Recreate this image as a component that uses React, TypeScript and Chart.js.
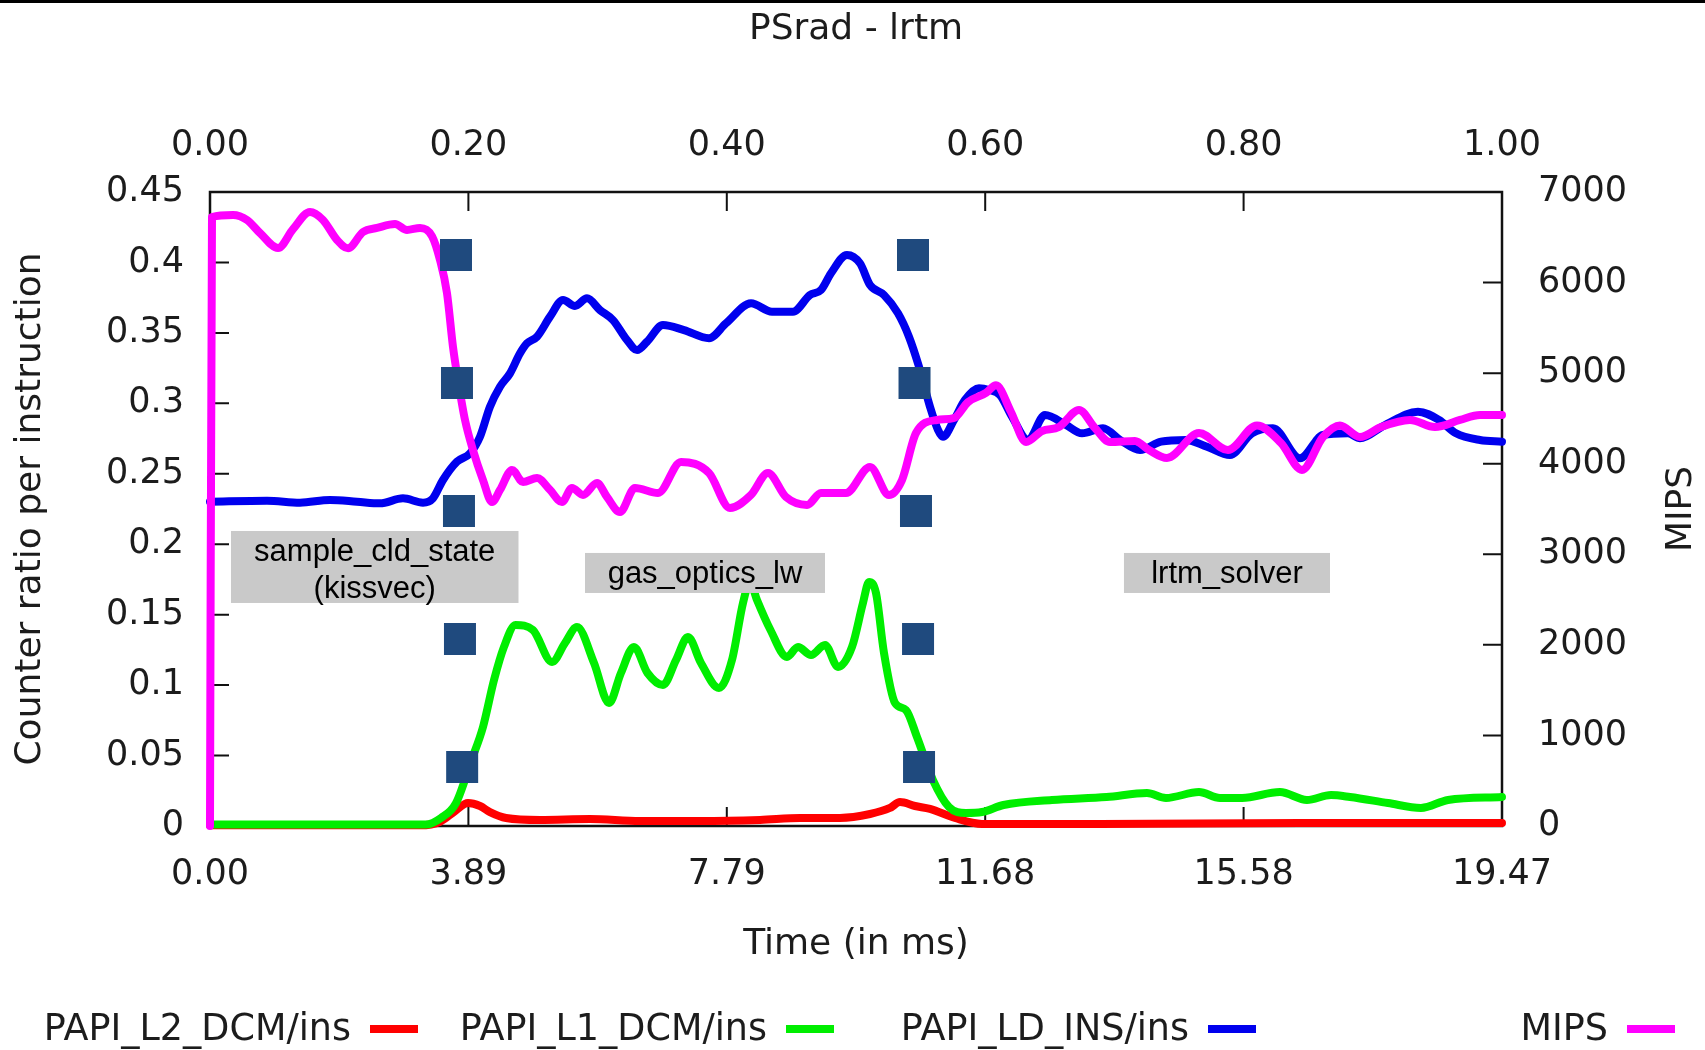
import React, { useEffect, useRef } from "react";
import { Chart, registerables } from "chart.js";

Chart.register(...registerables);

// ---------- data ----------
const X_MAX = 19.47;
const X_TICKS = [0, 3.894, 7.788, 11.682, 15.576, 19.47];
const TOP_TICKS = [0, 0.2, 0.4, 0.6, 0.8, 1.0];
const Y_TICKS = [0, 0.05, 0.1, 0.15, 0.2, 0.25, 0.3, 0.35, 0.4, 0.45];
const Y1_TICKS = [0, 1000, 2000, 3000, 4000, 5000, 6000, 7000];

const MIPS_T = [0, 0.03, 0.347, 0.558, 0.753, 1.025, 1.251, 1.507, 1.703, 1.914,
  2.08, 2.306, 2.517, 2.788, 2.969, 3.165, 3.345, 3.466, 3.571, 3.662,
  3.737, 3.843, 3.963, 4.114, 4.25, 4.37, 4.551, 4.717, 4.928, 5.124,
  5.304, 5.455, 5.621, 5.832, 5.983, 6.178, 6.404, 6.751, 7.098, 7.52,
  7.836, 8.153, 8.409, 8.68, 8.997, 9.207, 9.584, 9.946, 10.232, 10.428,
  10.639, 10.955, 11.212, 11.423, 11.694, 11.845, 12.071, 12.297, 12.538, 12.794,
  13.095, 13.336, 13.562, 13.939, 14.15, 14.421, 14.904, 15.34, 15.777, 16.139,
  16.456, 16.772, 17.028, 17.33, 17.646, 18.083, 18.46, 18.837, 19.138, 19.47];
const MIPS_V = [0, 6724, 6746, 6691, 6547, 6382, 6589, 6779, 6691, 6470,
  6379, 6558, 6603, 6647, 6581, 6603, 6513, 6249, 5885, 5289,
  4924, 4483, 4151, 3820, 3577, 3710, 3931, 3798, 3842, 3710,
  3577, 3732, 3655, 3787, 3632, 3467, 3732, 3677, 4019, 3897,
  3511, 3655, 3897, 3632, 3544, 3677, 3677, 3964, 3655, 3820,
  4339, 4483, 4505, 4681, 4781, 4866, 4571, 4240, 4361, 4405,
  4593, 4394, 4240, 4251, 4151, 4063, 4339, 4151, 4423, 4229,
  3931, 4295, 4423, 4295, 4405, 4483, 4405, 4483, 4538, 4538];

const LD_T = [0, 0.859, 1.356, 1.808, 2.215, 2.562, 2.908, 3.21, 3.36, 3.511,
  3.722, 3.918, 4.069, 4.219, 4.37, 4.521, 4.672, 4.777, 4.928, 5.124,
  5.32, 5.5, 5.681, 5.877, 6.073, 6.284, 6.435, 6.585, 6.826, 7.143,
  7.52, 7.776, 8.153, 8.469, 8.785, 9.041, 9.207, 9.358, 9.599, 9.795,
  9.946, 10.157, 10.368, 10.533, 10.684, 10.85, 10.971, 11.046, 11.212, 11.377,
  11.588, 11.739, 11.905, 12.086, 12.327, 12.583, 12.899, 13.141, 13.457, 13.713,
  14.015, 14.331, 14.708, 15.024, 15.371, 15.702, 16.019, 16.426, 16.772, 17.149,
  17.33, 17.707, 18.204, 18.521, 18.777, 19.138, 19.47];
const LD_V = [0.2302, 0.2309, 0.2295, 0.2314, 0.2302, 0.229, 0.2326, 0.2295, 0.2326, 0.2456,
  0.2586, 0.2645, 0.2763, 0.2976, 0.3118, 0.3213, 0.3355, 0.3426, 0.3473, 0.3615,
  0.3733, 0.3691, 0.3745, 0.3662, 0.3591, 0.3449, 0.3378, 0.3437, 0.3556, 0.352,
  0.3462, 0.3568, 0.371, 0.365, 0.365, 0.3769, 0.3804, 0.3923, 0.4053, 0.3994,
  0.384, 0.3769, 0.3639, 0.3473, 0.326, 0.2976, 0.2811, 0.2763, 0.2882, 0.3024,
  0.3107, 0.3095, 0.3059, 0.2905, 0.274, 0.2917, 0.2847, 0.2787, 0.2823, 0.274,
  0.2669, 0.2728, 0.274, 0.2692, 0.2633, 0.2787, 0.2823, 0.261, 0.2775, 0.2787,
  0.2752, 0.2846, 0.2941, 0.2882, 0.2787, 0.274, 0.2728];

const L1_T = [0, 3.247, 3.481, 3.707, 3.941, 4.114, 4.28, 4.43, 4.604, 4.867,
  5.154, 5.35, 5.53, 5.787, 6.013, 6.193, 6.389, 6.593, 6.826, 7.022,
  7.203, 7.399, 7.67, 7.866, 8.032, 8.137, 8.243, 8.446, 8.695, 8.861,
  9.057, 9.268, 9.464, 9.675, 9.84, 9.931, 10.036, 10.157, 10.323, 10.488,
  10.654, 10.895, 11.136, 11.392, 11.633, 11.957, 12.688, 13.51, 14.12, 14.406,
  14.904, 15.22, 15.552, 16.124, 16.531, 16.893, 17.179, 17.752, 18.249, 18.656, 19.47];
const L1_V = [0.001, 0.001, 0.0057, 0.0163, 0.0468, 0.0703, 0.1036, 0.1271, 0.1427, 0.1391,
  0.1164, 0.1299, 0.1412, 0.1157, 0.0873, 0.1086, 0.1271, 0.1086, 0.1001, 0.1178,
  0.1341, 0.1157, 0.0979, 0.1178, 0.1583, 0.1732, 0.1604, 0.1391, 0.12, 0.1271,
  0.1214, 0.1285, 0.1129, 0.1271, 0.1583, 0.1732, 0.1654, 0.1228, 0.0873, 0.0823,
  0.0632, 0.0326, 0.0135, 0.0092, 0.0099, 0.0149, 0.0185, 0.0206, 0.0234, 0.0199,
  0.0241, 0.0199, 0.0199, 0.0241, 0.0185, 0.022, 0.0206, 0.0163, 0.0128, 0.0185, 0.0206];

const L2_T = [0, 3.165, 3.466, 3.692, 3.888, 4.069, 4.219, 4.461, 4.973, 5.726,
  6.48, 7.384, 8.288, 8.891, 9.494, 9.946, 10.247, 10.398, 10.624, 10.85,
  11.227, 11.633, 13.405, 16.426, 19.47];
const L2_V = [0.0005, 0.0005, 0.003, 0.0106, 0.0163, 0.0142, 0.0099, 0.0057, 0.0043, 0.005,
  0.0035, 0.0035, 0.0043, 0.0057, 0.0057, 0.0085, 0.0128, 0.017, 0.0142, 0.0121,
  0.0057, 0.0015, 0.0014, 0.0021, 0.0021];

const MARKER_T = [3.707, 3.722, 3.752, 3.767, 3.8, 10.594, 10.617, 10.639, 10.67, 10.685];
const MARKER_V = [0.4053, 0.3144, 0.2236, 0.1327, 0.0419, 0.4053, 0.3144, 0.2236, 0.1327, 0.0419];

// annotation boxes: [x0, x1] in ms, [yTop, yBottom] in ratio units
const NOTE_TEXT = [["sample_cld_state", "(kissvec)"], ["gas_optics_lw"], ["lrtm_solver"]];
const NOTE_X0 = [0.316, 5.651, 13.773];
const NOTE_X1 = [4.649, 9.268, 16.878];
const NOTE_YTOP = [0.2094, 0.1938, 0.1938];
const NOTE_YBOT = [0.1583, 0.1654, 0.1654];

const LEGEND_LABELS = ["PAPI_L2_DCM/ins", "PAPI_L1_DCM/ins", "PAPI_LD_INS/ins", "MIPS"];
const COLORS = ["#ff0000", "#00ee00", "#0000ee", "#ff00ff"];

const FONT = '"DejaVu Sans", sans-serif';
const TEXT = "#1c1c1c";

const pts = (t: number[], v: number[]) => t.map((x, i) => ({ x, y: v[i] }));

const framePlugin = {
  id: "frame",
  beforeDraw(chart: any) {
    const ctx = chart.ctx;
    ctx.save();
    ctx.fillStyle = "#ffffff";
    ctx.fillRect(0, 0, chart.width, chart.height);
    ctx.restore();
  },
  beforeDatasetsDraw(chart: any) {
    const { ctx, chartArea: a, scales } = chart;
    ctx.save();
    ctx.strokeStyle = "#111";
    ctx.lineWidth = 2;
    const L = 19;
    ctx.beginPath();
    X_TICKS.forEach((v) => {
      const px = scales.x.getPixelForValue(v);
      ctx.moveTo(px, a.bottom);
      ctx.lineTo(px, a.bottom - L);
    });
    TOP_TICKS.forEach((v) => {
      const px = scales.x2.getPixelForValue(v);
      ctx.moveTo(px, a.top);
      ctx.lineTo(px, a.top + L);
    });
    Y_TICKS.forEach((v) => {
      const py = scales.y.getPixelForValue(v);
      ctx.moveTo(a.left, py);
      ctx.lineTo(a.left + L, py);
    });
    Y1_TICKS.forEach((v) => {
      const py = scales.y1.getPixelForValue(v);
      ctx.moveTo(a.right, py);
      ctx.lineTo(a.right - L, py);
    });
    ctx.stroke();
    ctx.lineWidth = 2.5;
    ctx.strokeRect(a.left, a.top, a.right - a.left, a.bottom - a.top);
    ctx.restore();
  },
  afterDatasetsDraw(chart: any) {
    const { ctx, scales } = chart;
    ctx.save();
    NOTE_TEXT.forEach((lines, i) => {
      const x0 = scales.x.getPixelForValue(NOTE_X0[i]);
      const x1 = scales.x.getPixelForValue(NOTE_X1[i]);
      const y0 = scales.y.getPixelForValue(NOTE_YTOP[i]);
      const y1 = scales.y.getPixelForValue(NOTE_YBOT[i]);
      ctx.fillStyle = "#c9c9c9";
      ctx.fillRect(x0, y0, x1 - x0, y1 - y0);
      ctx.fillStyle = "#000";
      ctx.font = '31px "Liberation Sans", Arial, sans-serif';
      ctx.textAlign = "center";
      ctx.textBaseline = "alphabetic";
      lines.forEach((s, j) => {
        ctx.fillText(s, (x0 + x1) / 2, y0 + 30 + j * 37);
      });
    });
    ctx.restore();
  },
  afterDraw(chart: any) {
    const { ctx, chartArea: a } = chart;
    ctx.save();
    ctx.fillStyle = "#000";
    ctx.fillRect(0, 0, chart.width, 3);
    ctx.fillStyle = TEXT;
    ctx.font = `36px ${FONT}`;
    ctx.textAlign = "center";
    ctx.textBaseline = "alphabetic";
    const cx = (a.left + a.right) / 2;
    const cy = (a.top + a.bottom) / 2;
    ctx.fillText("PSrad - lrtm", cx, a.top - 153);
    ctx.fillText("Time (in ms)", cx, a.bottom + 128);
    ctx.save();
    ctx.translate(a.left - 170.5, cy);
    ctx.rotate(-Math.PI / 2);
    ctx.fillText("Counter ratio per instruction", 0, 0);
    ctx.restore();
    ctx.save();
    ctx.translate(a.right + 189, cy);
    ctx.rotate(-Math.PI / 2);
    ctx.fillText("MIPS", 0, 0);
    ctx.restore();
    // legend
    const lineStarts = [370, 786, 1208, 1627];
    ctx.font = `36.5px ${FONT}`;
    ctx.textAlign = "right";
    LEGEND_LABELS.forEach((lab, i) => {
      const ls = lineStarts[i];
      ctx.fillStyle = TEXT;
      ctx.fillText(lab, ls - 19, a.bottom + 214);
      ctx.strokeStyle = COLORS[i];
      ctx.lineWidth = 8;
      ctx.beginPath();
      ctx.moveTo(ls, a.bottom + 203);
      ctx.lineTo(ls + 48, a.bottom + 203);
      ctx.stroke();
    });
    ctx.restore();
  },
};

const tickFont = { family: FONT, size: 35 };

export default function App() {
  const ref = useRef<HTMLCanvasElement | null>(null);
  useEffect(() => {
    if (!ref.current) return;
    const lineDs = (label: string, t: number[], v: number[], color: string, axis: string) => ({
      type: "line",
      label,
      data: pts(t, v),
      yAxisID: axis,
      xAxisID: "x",
      borderColor: color,
      backgroundColor: color,
      borderWidth: 8,
      pointRadius: 0,
      cubicInterpolationMode: "monotone",
      borderJoinStyle: "round",
      borderCapStyle: "round",
      fill: false,
      clip: false,
    });
    const chart = new Chart(ref.current, {
      type: "line",
      data: {
        datasets: [
          {
            type: "scatter",
            label: "markers",
            data: pts(MARKER_T, MARKER_V),
            yAxisID: "y",
            xAxisID: "x",
            showLine: false,
            pointStyle: "rect",
            pointRadius: 22.63,
            pointBorderWidth: 0,
            borderWidth: 0,
            backgroundColor: "#1f4a7e",
            pointBackgroundColor: "#1f4a7e",
            clip: false,
          } as any,
          lineDs("MIPS", MIPS_T, MIPS_V, COLORS[3], "y1") as any,
          lineDs("PAPI_LD_INS/ins", LD_T, LD_V, COLORS[2], "y") as any,
          lineDs("PAPI_L1_DCM/ins", L1_T, L1_V, COLORS[1], "y") as any,
          lineDs("PAPI_L2_DCM/ins", L2_T, L2_V, COLORS[0], "y") as any,
        ],
      },
      options: {
        responsive: false,
        animation: false,
        events: [],
        layout: { padding: 0 },
        plugins: { legend: { display: false }, tooltip: { enabled: false }, title: { display: false } },
        scales: {
          x: {
            type: "linear",
            position: "bottom",
            min: 0,
            max: X_MAX,
            grid: { display: false, drawTicks: false, tickLength: 0 },
            border: { display: false },
            afterBuildTicks: (s: any) => { s.ticks = X_TICKS.map((v) => ({ value: v })); },
            afterFit: (s: any) => { s.height = 224; },
            ticks: { font: tickFont, color: TEXT, padding: 27.5, maxRotation: 0, autoSkip: false,
              callback: (v: any) => Number(v).toFixed(2) },
          },
          x2: {
            type: "linear",
            position: "top",
            min: 0,
            max: 1,
            grid: { display: false, drawTicks: false, tickLength: 0 },
            border: { display: false },
            afterBuildTicks: (s: any) => { s.ticks = TOP_TICKS.map((v) => ({ value: v })); },
            afterFit: (s: any) => { s.height = 192; },
            ticks: { font: tickFont, color: TEXT, padding: 25, maxRotation: 0, autoSkip: false,
              callback: (v: any) => Number(v).toFixed(2) },
          },
          y: {
            type: "linear",
            position: "left",
            min: 0,
            max: 0.45,
            grid: { display: false, drawTicks: false, tickLength: 0 },
            border: { display: false },
            afterBuildTicks: (s: any) => { s.ticks = Y_TICKS.map((v) => ({ value: v })); },
            afterFit: (s: any) => { s.width = 210; },
            ticks: { font: tickFont, color: TEXT, padding: 26, autoSkip: false,
              callback: (v: any) => String(Math.round(Number(v) * 100) / 100) },
          },
          y1: {
            type: "linear",
            position: "right",
            min: 0,
            max: 7000,
            grid: { display: false, drawTicks: false, tickLength: 0 },
            border: { display: false },
            afterBuildTicks: (s: any) => { s.ticks = Y1_TICKS.map((v) => ({ value: v })); },
            afterFit: (s: any) => { s.width = 203; },
            ticks: { font: tickFont, color: TEXT, padding: 36, autoSkip: false,
              callback: (v: any) => String(Math.round(Number(v))) },
          },
        },
      } as any,
      plugins: [framePlugin],
    });
    return () => chart.destroy();
  }, []);
  return (
    <div style={{ position: "absolute", left: 0, top: 0, width: 1705, height: 1050, background: "#fff" }}>
      <canvas ref={ref} width={1705} height={1050} style={{ display: "block", width: 1705, height: 1050 }} />
    </div>
  );
}
